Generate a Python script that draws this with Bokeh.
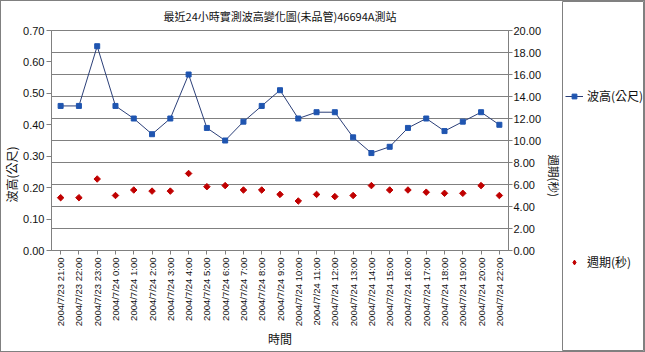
import math
from bokeh.plotting import figure
from bokeh.layouts import row
from bokeh.models import (FactorRange, Range1d, LinearAxis, FixedTicker,
                          NumeralTickFormatter, Grid, Legend, LegendItem, Title)
from bokeh.embed import file_html
from bokeh.resources import INLINE

# ---- data ----
times = ["2004/7/23 21:00", "2004/7/23 22:00", "2004/7/23 23:00",
         "2004/7/24 0:00", "2004/7/24 1:00", "2004/7/24 2:00", "2004/7/24 3:00",
         "2004/7/24 4:00", "2004/7/24 5:00", "2004/7/24 6:00", "2004/7/24 7:00",
         "2004/7/24 8:00", "2004/7/24 9:00", "2004/7/24 10:00", "2004/7/24 11:00",
         "2004/7/24 12:00", "2004/7/24 13:00", "2004/7/24 14:00", "2004/7/24 15:00",
         "2004/7/24 16:00", "2004/7/24 17:00", "2004/7/24 18:00", "2004/7/24 19:00",
         "2004/7/24 20:00", "2004/7/24 22:00"]
wave_height = [0.46, 0.46, 0.65, 0.46, 0.42, 0.37, 0.42, 0.56, 0.39, 0.35, 0.41, 0.46,
               0.51, 0.42, 0.44, 0.44, 0.36, 0.31, 0.33, 0.39, 0.42, 0.38, 0.41, 0.44, 0.40]
period = [4.8, 4.8, 6.5, 5.0, 5.5, 5.4, 5.4, 7.0, 5.8, 5.9, 5.5, 5.5,
          5.1, 4.5, 5.1, 4.9, 5.0, 5.9, 5.5, 5.5, 5.3, 5.2, 5.2, 5.9, 5.0]

title_text = "最近24小時實測波高變化圖(未品管)46694A測站"
left_label = "波高(公尺)"
right_label = "週期(秒)"
x_label = "時間"
wave_name = "波高(公尺)"
period_name = "週期(秒)"
left_ticks = [0.0, 0.1, 0.2, 0.3, 0.4, 0.5, 0.6, 0.7]
right_ticks = [0, 2, 4, 6, 8, 10, 12, 14, 16, 18, 20]

LATIN = "Liberation Sans"
CJK = "Noto Sans CJK TC"
GRAY = "#808080"
TXT = "#111111"

p = figure(width=561, height=350, title=title_text,
           x_range=FactorRange(factors=times, range_padding=0),
           y_range=Range1d(left_ticks[0], left_ticks[-1]),
           output_backend="svg", toolbar_location=None,
           min_border_left=47, min_border_right=52,
           min_border_top=29, min_border_bottom=101,
           background_fill_color="white", border_fill_color="white")
p.outline_line_color = GRAY
p.xgrid.visible = False
p.ygrid.visible = False

p.title.align = "center"
p.title.vertical_align = "top"
p.title.text_font = CJK
p.title.text_font_size = "11px"
p.title.text_font_style = "normal"
p.title.text_color = TXT
p.title.standoff = 10

p.extra_y_ranges = {"period": Range1d(right_ticks[0], right_ticks[-1])}

# left axis
ya = p.yaxis[0]
ya.ticker = FixedTicker(ticks=left_ticks)
ya.formatter = NumeralTickFormatter(format="0.00")
ya.major_label_text_font = LATIN
ya.major_label_text_font_size = "11px"
ya.major_label_text_color = TXT
ya.axis_line_color = GRAY
ya.major_tick_line_color = GRAY
ya.major_tick_out = 5
ya.major_tick_in = 0
ya.minor_tick_line_color = None
ya.major_label_standoff = 2

# right axis
ra = LinearAxis(y_range_name="period", ticker=FixedTicker(ticks=right_ticks),
                formatter=NumeralTickFormatter(format="0.00"))
ra.major_label_text_font = LATIN
ra.major_label_text_font_size = "11px"
ra.major_label_text_color = TXT
ra.axis_line_color = GRAY
ra.major_tick_line_color = GRAY
ra.major_tick_out = 4
ra.major_tick_in = 0
ra.minor_tick_line_color = None
ra.major_label_standoff = 1
p.add_layout(ra, "right")

# x axis
xa = p.xaxis[0]
xa.major_label_orientation = math.pi / 2
xa.major_label_text_font = LATIN
xa.major_label_text_font_size = "9.5px"
xa.major_label_text_color = TXT
xa.axis_line_color = GRAY
xa.major_tick_line_color = GRAY
xa.major_tick_out = 4
xa.major_tick_in = 0
xa.minor_tick_line_color = None
xa.major_label_standoff = 3
xa.axis_label = x_label
xa.axis_label_text_font = CJK
xa.axis_label_text_font_size = "12px"
xa.axis_label_text_font_style = "normal"
xa.axis_label_text_color = TXT
xa.axis_label_standoff = 1

# side labels as titles
p.add_layout(Title(text=left_label, align="left", offset=48, vertical_align="middle",
                   standoff=0, text_font=CJK, text_font_size="12px",
                   text_font_style="normal", text_color=TXT), "left")
p.add_layout(Title(text=right_label, align="left", offset=124, vertical_align="middle",
                   standoff=0, text_font=CJK, text_font_size="11.5px",
                   text_font_style="normal", text_color=TXT), "right")

# grid from right axis
g = Grid(dimension=1, y_range_name="period", ticker=FixedTicker(ticks=right_ticks),
         grid_line_color=GRAY, grid_line_width=1)
p.add_layout(g)

# series
line_style = dict(line_color="#2b3f78", line_width=1)
sq_style = dict(marker="square", size=5, fill_color="#1f55b0", line_color="#1f55b0")
dia_color = dict(fill_color="#c00000", line_color="#c00000")

p.line(x=times, y=wave_height, **line_style)
p.scatter(x=times, y=wave_height, **sq_style)
p.scatter(x=times, y=period, y_range_name="period", marker="square",
          angle=math.pi / 4, size=4.6, **dia_color)

# legend panel
pl = figure(width=82, height=350, x_axis_type=None, y_axis_type=None, title=None,
            output_backend="svg", toolbar_location=None, min_border=0,
            x_range=Range1d(0, 1), y_range=Range1d(0, 1),
            background_fill_color="white", border_fill_color="white")
pl.outline_line_color = GRAY
for fig in (p, pl):
    if "frame_align" in fig.properties():
        fig.frame_align = False
hidden = [-5]
lg_line = pl.line(x=hidden, y=hidden, **line_style)
lg_sq = pl.scatter(x=hidden, y=hidden, **sq_style)
lg_dia = pl.scatter(x=hidden, y=hidden, marker="diamond", size=8, **dia_color)
legend = Legend(items=[LegendItem(label=wave_name, renderers=[lg_line, lg_sq]),
                       LegendItem(label=period_name, renderers=[lg_dia])],
                location=(3, 81), orientation="vertical",
                glyph_width=18, glyph_height=12, label_height=12,
                label_standoff=4, spacing=149, padding=0, margin=0,
                border_line_color=None, background_fill_alpha=0,
                label_text_font=CJK, label_text_font_size="12px",
                label_text_color=TXT)
pl.add_layout(legend)

layout = row(p, pl, styles={"border": "1px solid #808080"})

open("out.html", "w").write(file_html(layout, INLINE))
